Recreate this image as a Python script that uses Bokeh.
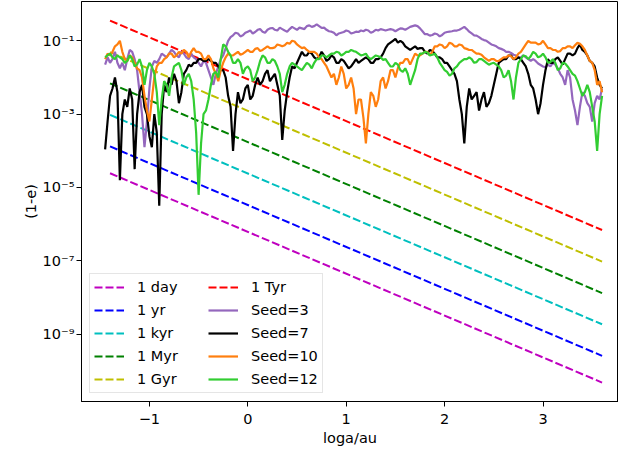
import numpy as np
from bokeh.plotting import figure
from bokeh.models import Range1d, FixedTicker, CustomJSTickFormatter
from bokeh.embed import file_html
from bokeh.resources import INLINE

# ---- data ----
# timescale lines (endpoints)
line_x = [-1.40, 3.60]
t_day = [2.45e-5, 4.79e-11]
t_yr = [1.32e-4, 2.57e-10]
t_kyr = [9.55e-4, 1.86e-9]
t_myr = [6.92e-3, 1.32e-8]
t_gyr = [4.90e-2, 9.55e-8]
t_tyr = [3.55e-1, 6.92e-7]

# seeds: log10(1-e) readings on a grid (x = -1.45 .. 3.60 step 0.05)
# and readings in between (x = -1.425 .. 3.575 step 0.05)
seed_x = np.round(np.arange(-1.45, 3.601, 0.05), 3)
seed_x_mid = np.round(np.arange(-1.425, 3.58, 0.05), 3)

seed3_log = [-1.65, -1.6, -1.3, -1.75, -1.8, -1.25, -1.5, -2.4, -3.9, -2.3,
             -1.55, -1.5, -1.4, -1.35, -1.3, -1.45, -1.35, -1.5, -1.45, -1.6,
             -1.55, -1.8, -2.2, -1.7, -1.4, -1.0, -0.85, -0.8, -0.85, -0.75,
             -0.8, -0.7, -0.75, -0.7, -0.65, -0.72, -0.68, -0.75, -0.62, -0.7,
             -0.66, -0.6, -0.62, -0.55, -0.65, -0.7, -0.75, -0.85, -0.78, -0.72,
             -0.8, -0.75, -0.72, -0.7, -0.78, -0.7, -0.68, -0.72, -0.68, -0.74,
             -0.66, -0.7, -0.62, -0.58, -0.66, -0.82, -0.86, -0.8, -0.88, -0.78,
             -0.75, -0.72, -0.7, -0.62, -0.75, -0.85, -0.9, -0.98, -1.05, -1.12,
             -1.2, -1.25, -1.3, -1.38, -1.45, -1.4, -1.5, -1.5, -1.62, -1.7,
             -1.65, -1.6, -1.75, -2.0, -1.8, -2.6, -3.3, -2.4, -2.7, -3.2,
             -2.5, -2.3]
seed3_mid = [-1.45, -1.5, -1.6, -1.6, -1.5, -1.3, -1.8, -3.0, -3.2, -1.7,
             -1.6, -1.35, -1.45, -1.25, -1.4, -1.3, -1.45, -1.35, -1.5, -1.7,
             -1.6, -2.0, -1.9, -1.5, -1.2, -0.9, -0.78, -0.88, -0.78, -0.72,
             -0.76, -0.68, -0.78, -0.66, -0.7, -0.64, -0.72, -0.68, -0.66, -0.64,
             -0.68, -0.58, -0.6, -0.6, -0.64, -0.74, -0.78, -0.8, -0.76, -0.74,
             -0.78, -0.76, -0.74, -0.72, -0.75, -0.72, -0.7, -0.7, -0.7, -0.7,
             -0.67, -0.66, -0.6, -0.6, -0.74, -0.82, -0.84, -0.82, -0.84, -0.76,
             -0.74, -0.72, -0.66, -0.68, -0.8, -0.86, -0.95, -1.0, -1.1, -1.15,
             -1.22, -1.3, -1.33, -1.4, -1.45, -1.45, -1.55, -1.55, -1.66, -1.72,
             -1.7, -1.65, -1.9, -2.2, -2.0, -2.9, -2.8, -2.5, -2.8, -2.7,
             -2.6]

seed7_log = [-3.96, -2.5, -2.0, -4.8, -2.6, -2.3, -4.5, -2.4, -2.8, -3.6,
             -3.0, -5.5, -2.2, -2.0, -1.9, -2.7, -1.9, -1.65, -1.6, -1.5,
             -1.55, -1.5, -1.6, -1.7, -1.8, -2.5, -4.0, -2.4, -2.6, -2.2,
             -2.5, -2.0, -2.1, -1.8, -2.0, -2.2, -3.7, -2.4, -1.7, -1.6,
             -1.3, -1.4, -1.35, -1.5, -1.3, -1.55, -1.4, -1.6, -1.5, -1.65,
             -1.7, -1.5, -1.55, -1.45, -1.6, -1.5, -1.45, -1.2, -1.05, -0.95,
             -1.0, -1.15, -1.25, -1.15, -1.2, -1.3, -1.25, -1.35, -1.45, -1.6,
             -1.7, -1.9, -2.6, -3.8, -2.3, -2.5, -2.9, -2.4, -2.7, -2.2,
             -1.6, -1.5, -1.4, -1.5, -1.45, -1.6, -1.9, -2.3, -3.0, -2.2,
             -1.5, -1.6, -1.45, -1.65, -1.35, -1.4, -1.2, -1.25, -1.4, -1.6,
             -2.0, -2.3]
seed7_mid = [-3.2, -2.3, -2.4, -3.0, -2.8, -2.6, -3.0, -2.2, -3.0, -3.9,
             -3.5, -3.0, -2.4, -2.2, -2.1, -2.4, -1.8, -1.7, -1.6, -1.5,
             -1.55, -1.55, -1.6, -1.8, -2.0, -2.8, -3.0, -2.7, -2.3, -2.6,
             -2.2, -2.2, -1.9, -2.1, -1.9, -2.5, -2.9, -2.0, -1.75, -1.45,
             -1.4, -1.3, -1.45, -1.45, -1.4, -1.5, -1.45, -1.6, -1.55, -1.75,
             -1.6, -1.6, -1.5, -1.5, -1.6, -1.5, -1.35, -1.1, -1.0, -1.05,
             -1.05, -1.2, -1.2, -1.22, -1.2, -1.35, -1.28, -1.45, -1.5, -1.6,
             -1.8, -2.1, -3.0, -2.8, -2.6, -2.4, -2.6, -2.8, -2.5, -1.9,
             -1.55, -1.5, -1.4, -1.5, -1.5, -1.7, -2.2, -2.6, -2.7, -1.8,
             -1.6, -1.5, -1.55, -1.5, -1.35, -1.35, -1.1, -1.3, -1.55, -1.7,
             -2.2]

seed10_log = [-1.5, -1.4, -1.15, -1.0, -1.5, -1.4, -1.6, -1.8, -2.5, -3.2,
              -2.0, -1.6, -1.5, -1.35, -1.45, -1.3, -1.25, -1.45, -1.2, -1.3,
              -1.5, -1.4, -1.75, -2.1, -1.6, -1.35, -1.4, -1.3, -1.35, -1.25,
              -1.3, -1.2, -1.25, -1.15, -1.2, -1.1, -1.15, -1.05, -1.0, -1.1,
              -1.2, -1.25, -1.3, -1.35, -1.5, -1.7, -2.0, -2.2, -1.7, -2.3,
              -2.0, -3.0, -2.6, -3.8, -2.4, -2.8, -2.1, -2.3, -1.8, -2.0,
              -1.6, -1.5, -1.65, -1.35, -1.4, -1.3, -1.4, -1.15, -1.1, -1.2,
              -1.05, -1.15, -1.1, -1.2, -1.25, -1.3, -1.35, -1.45, -1.55, -1.5,
              -1.55, -1.45, -1.4, -1.5, -1.35, -1.2, -1.0, -1.05, -1.1, -1.0,
              -1.2, -1.25, -1.3, -1.2, -1.15, -1.2, -1.05, -1.15, -1.4, -1.6,
              -2.2, -2.4]
seed10_mid = [-1.35, -1.3, -1.1, -1.3, -1.55, -1.45, -1.75, -2.0, -2.9, -2.6,
              -1.7, -1.6, -1.45, -1.35, -1.4, -1.35, -1.3, -1.3, -1.3, -1.35,
              -1.5, -1.5, -1.9, -1.8, -1.45, -1.4, -1.35, -1.38, -1.3, -1.3,
              -1.22, -1.28, -1.2, -1.2, -1.18, -1.12, -1.12, -1.08, -1.02, -1.15,
              -1.18, -1.3, -1.3, -1.45, -1.6, -1.85, -1.9, -2.0, -1.9, -2.2,
              -2.3, -2.6, -3.1, -3.0, -2.5, -2.6, -2.0, -2.1, -1.8, -1.75,
              -1.6, -1.5, -1.5, -1.4, -1.35, -1.3, -1.3, -1.15, -1.12, -1.15,
              -1.08, -1.15, -1.12, -1.22, -1.25, -1.35, -1.38, -1.5, -1.5, -1.55,
              -1.5, -1.45, -1.42, -1.45, -1.3, -1.1, -1.05, -1.05, -1.08, -1.1,
              -1.2, -1.25, -1.28, -1.2, -1.15, -1.12, -1.08, -1.25, -1.55, -1.8,
              -2.1]

seed12_log = [-1.45, -1.35, -1.5, -1.45, -1.6, -1.4, -1.7, -1.5, -2.2, -1.6,
              -1.9, -3.3, -2.1, -2.5, -1.7, -1.6, -2.2, -1.9, -2.6, -5.2,
              -3.0, -2.6, -1.9, -2.0, -1.1, -1.3, -1.6, -1.5, -1.9, -1.7,
              -2.1, -1.8, -1.4, -1.6, -1.5, -1.7, -2.4, -1.9, -1.6, -1.7,
              -1.8, -1.6, -1.75, -1.5, -1.4, -1.45, -1.35, -1.3, -1.4, -1.3,
              -1.25, -1.3, -1.4, -1.35, -1.5, -1.4, -1.45, -1.5, -1.7, -1.6,
              -1.8, -1.75, -2.2, -1.8, -1.35, -1.3, -1.4, -1.35, -1.6, -1.8,
              -1.95, -1.75, -1.6, -1.5, -1.45, -1.6, -1.5, -1.55, -1.65, -1.6,
              -1.7, -2.0, -1.8, -2.6, -1.6, -1.4, -1.5, -1.3, -1.45, -1.35,
              -1.6, -1.5, -1.8, -1.6, -1.7, -1.9, -2.1, -2.5, -2.2, -2.8,
              -4.0, -2.5]
seed12_mid = [-1.4, -1.45, -1.4, -1.5, -1.55, -1.5, -1.65, -1.7, -1.8, -1.7,
              -2.4, -2.6, -2.2, -2.0, -1.65, -1.8, -2.0, -2.1, -3.5, -3.8,
              -2.9, -2.2, -1.85, -1.5, -1.15, -1.4, -1.6, -1.6, -1.75, -1.8,
              -2.0, -1.55, -1.45, -1.6, -1.55, -1.9, -2.2, -1.7, -1.65, -1.75,
              -1.7, -1.65, -1.6, -1.5, -1.4, -1.4, -1.35, -1.32, -1.36, -1.3,
              -1.28, -1.35, -1.38, -1.45, -1.45, -1.42, -1.52, -1.6, -1.7, -1.65,
              -1.85, -1.9, -2.0, -1.5, -1.35, -1.32, -1.38, -1.45, -1.7, -1.85,
              -1.9, -1.7, -1.55, -1.5, -1.5, -1.58, -1.5, -1.6, -1.62, -1.65,
              -1.8, -1.95, -2.1, -2.0, -1.5, -1.42, -1.42, -1.35, -1.42, -1.45,
              -1.58, -1.6, -1.75, -1.62, -1.8, -1.95, -2.3, -2.4, -2.4, -3.2,
              -3.0]

x_ticks = [-1, 0, 1, 2, 3]
x_tick_labels = {-1: "\u22121", 0: "0", 1: "1", 2: "2", 3: "3"}
y_ticks = [1e-1, 1e-3, 1e-5, 1e-7, 1e-9]


def merge(xa, ya, xb, yb):
    """Put the two sets of readings together in x order."""
    xs = np.concatenate([xa, xb])
    ys = np.concatenate([ya, yb])
    order = np.argsort(xs)
    return xs[order], 10 ** ys[order]


FONT = "DejaVu Sans"
FS = "14.5px"

p = figure(width=618, height=453, output_backend="svg", toolbar_location=None,
           y_axis_type="log",
           x_range=Range1d(-1.690, 3.767),
           y_range=Range1d(10 ** -10.836, 10 ** 0.072),
           min_border_left=81, min_border_right=0, min_border_top=1,
           min_border_bottom=52,
           background_fill_color="white", border_fill_color="white")
p.xgrid.visible = False
p.ygrid.visible = False
p.outline_line_color = "black"
p.outline_line_width = 1

dash = "8 3"
p.line(line_x, t_day, color="#bf00bf", line_width=2, line_dash=dash, legend_label="1 day")
p.line(line_x, t_yr, color="#0000ff", line_width=2, line_dash=dash, legend_label="1 yr")
p.line(line_x, t_kyr, color="#00bfbf", line_width=2, line_dash=dash, legend_label="1 kyr")
p.line(line_x, t_myr, color="#008000", line_width=2, line_dash=dash, legend_label="1 Myr")
p.line(line_x, t_gyr, color="#bfbf00", line_width=2, line_dash=dash, legend_label="1 Gyr")
p.line(line_x, t_tyr, color="#ff0000", line_width=2, line_dash=dash, legend_label="1 Tyr")

series = [
    (seed3_log, seed3_mid, "#9467bd", "Seed=3"),
    (seed7_log, seed7_mid, "black", "Seed=7"),
    (seed10_log, seed10_mid, "#ff7f0e", "Seed=10"),
    (seed12_log, seed12_mid, "#32cd32", "Seed=12"),
]
for main, mid, col, lab in series:
    xs, ys = merge(seed_x, np.array(main), seed_x_mid, np.array(mid))
    p.line(xs, ys, color=col, line_width=2.2, legend_label=lab)

# axes
for ax in (p.xaxis[0], p.yaxis[0]):
    ax.axis_line_color = "black"
    ax.major_tick_line_color = "black"
    ax.major_tick_out = 5
    ax.major_tick_in = 0
    ax.minor_tick_line_color = None
    ax.major_label_text_font = FONT
    ax.major_label_text_font_size = FS
    ax.major_label_text_color = "black"
    ax.axis_label_text_font = FONT
    ax.axis_label_text_font_size = FS
    ax.axis_label_text_font_style = "normal"
    ax.axis_label_text_color = "black"

p.xaxis.ticker = FixedTicker(ticks=x_ticks)
p.xaxis.major_label_overrides = x_tick_labels
p.xaxis.major_label_standoff = 7
p.xaxis.axis_label = "loga/au"
p.xaxis.axis_label_standoff = 3

p.yaxis.ticker = FixedTicker(ticks=y_ticks)
p.yaxis.formatter = CustomJSTickFormatter(code="""
const sup = {'-': '\u207b', '0': '\u2070', '1': '\u00b9', '2': '\u00b2', '3': '\u00b3',
             '4': '\u2074', '5': '\u2075', '6': '\u2076', '7': '\u2077', '8': '\u2078', '9': '\u2079'};
const e = Math.round(Math.log10(tick));
return '10' + String(e).split('').map(c => sup[c]).join('');
""")
p.yaxis.major_label_standoff = 2
p.yaxis.axis_label = "(1-e)"
p.yaxis.axis_label_standoff = 1

# legend
lg = p.legend[0]
lg.location = "bottom_left"
lg.orientation = "vertical"
lg.nrows = 5
lg.ncols = 2
lg.margin = 8
lg.padding = 4
lg.spacing = 5
lg.glyph_width = 30
lg.glyph_height = 18
lg.label_height = 18
lg.label_width = 66
lg.label_standoff = 13
lg.label_text_font = FONT
lg.label_text_font_size = FS
lg.label_text_color = "black"
lg.border_line_color = "#cccccc"
lg.border_line_width = 1
lg.background_fill_alpha = 0.8

open("out.html", "w").write(file_html(p, INLINE))
